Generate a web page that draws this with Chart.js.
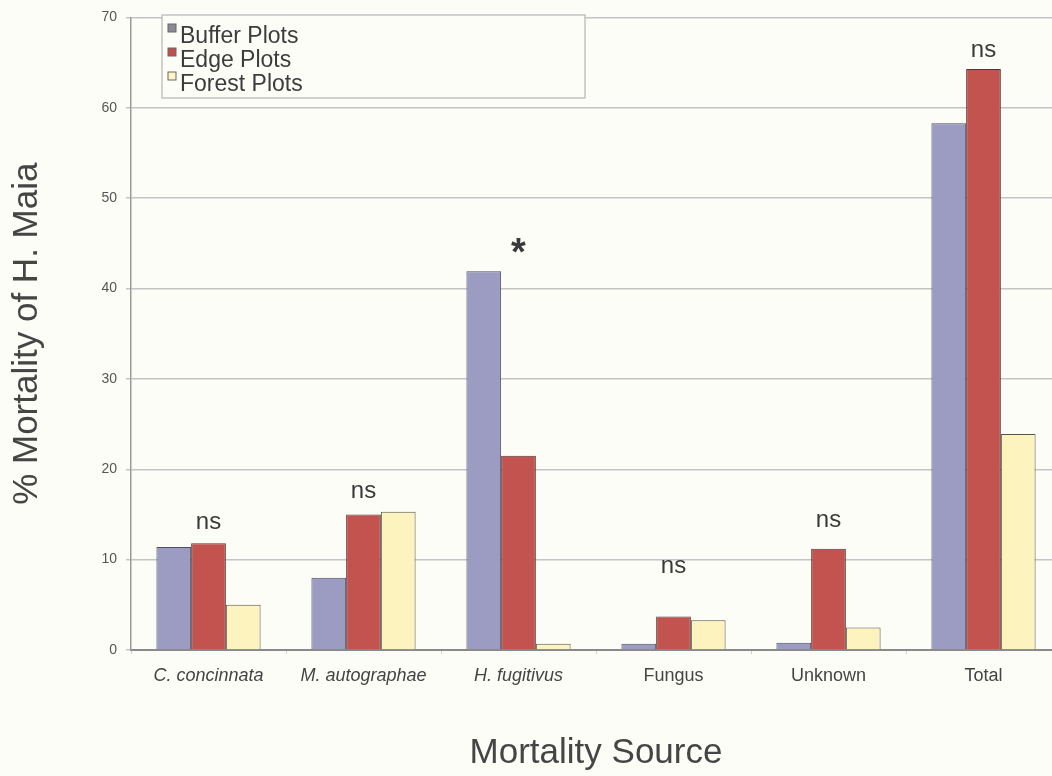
<!DOCTYPE html>
<html>
<head>
<meta charset="utf-8">
<script src="https://cdn.jsdelivr.net/npm/chart.js@4/dist/chart.umd.min.js"></script>
<style>
  html, body { margin: 0; padding: 0; background: #fdfdf8; overflow: hidden; }
  canvas { display: block; }
</style>
</head>
<body>
<canvas id="mortalityChart" width="1061" height="776"></canvas>
<script>
// categories and series
const categories = ['C. concinnata', 'M. autographae', 'H. fugitivus', 'Fungus', 'Unknown', 'Total'];
const bufferPlots = [11.4, 8.0, 41.9, 0.7, 0.8, 58.3];
const edgePlots = [11.8, 15.0, 21.5, 3.7, 11.2, 64.3];
const forestPlots = [5.0, 15.3, 0.7, 3.3, 2.5, 23.9];

// significance marks and the level (in % units) where their baseline sits
const sigMarks = ['ns', 'ns', '*', 'ns', 'ns', 'ns'];
const sigLevels = [13.4, 16.8, 42.6, 8.5, 13.6, 65.6];

const yTicks = [0, 10, 20, 30, 40, 50, 60, 70];

// species names are set in italics
const italicCategories = ['C. concinnata', 'M. autographae', 'H. fugitivus'];

const FONT = "'Liberation Sans', Arial, sans-serif";

// Draws the ns / * marks above each group
const sigPlugin = {
    id: 'sigMarks',
    afterDatasetsDraw(chart) {
        const ctx = chart.ctx;
        const x = chart.scales.x;
        const y = chart.scales.y;
        ctx.save();
        ctx.fillStyle = '#3a3a3a';
        ctx.textAlign = 'center';
        ctx.textBaseline = 'alphabetic';
        sigMarks.forEach((mark, i) => {
            ctx.font = mark === '*' ? 'bold 38px ' + FONT : '24px ' + FONT;
            ctx.fillText(mark, x.getPixelForValue(i), y.getPixelForValue(sigLevels[i]));
        });
        ctx.restore();
    }
};

// Legend box sitting inside the plot, top left
const legendBoxPlugin = {
    id: 'legendBox',
    afterDraw(chart) {
        const ctx = chart.ctx;
        const left = 162, top = 15, width = 423, height = 83;
        ctx.save();
        ctx.fillStyle = '#fdfdf8';
        ctx.fillRect(left, top, width, height);
        ctx.strokeStyle = '#b5b5b5';
        ctx.lineWidth = 1.2;
        ctx.strokeRect(left, top, width, height);

        const markerColors = ['#8a8a96', '#c0504c', '#fdf6c4'];
        ctx.font = '23px ' + FONT;
        ctx.textAlign = 'left';
        ctx.textBaseline = 'alphabetic';
        chart.data.datasets.forEach((ds, i) => {
            const base = 43 + i * 24;
            ctx.fillStyle = markerColors[i];
            ctx.fillRect(168, base - 19, 8, 8);
            ctx.strokeStyle = '#666';
            ctx.lineWidth = 1;
            ctx.strokeRect(168, base - 19, 8, 8);
            ctx.fillStyle = '#3c3c3c';
            ctx.fillText(ds.label, 180, base);
        });
        ctx.restore();
    }
};

const ctx = document.getElementById('mortalityChart').getContext('2d');

new Chart(ctx, {
    type: 'bar',
    data: {
        labels: categories,
        datasets: [
            {
                label: 'Buffer Plots',
                data: bufferPlots,
                backgroundColor: '#9c9bc1',
                borderColor: '#4e4e62',
                borderWidth: 1
            },
            {
                label: 'Edge Plots',
                data: edgePlots,
                backgroundColor: '#c2534f',
                borderColor: '#553535',
                borderWidth: 1
            },
            {
                label: 'Forest Plots',
                data: forestPlots,
                backgroundColor: '#fdf3bf',
                borderColor: '#55554a',
                borderWidth: 1
            }
        ]
    },
    options: {
        responsive: false,
        animation: false,
        layout: { padding: { top: 13, right: 0, bottom: 0, left: 0 } },
        datasets: {
            bar: { categoryPercentage: 0.672, barPercentage: 1.0 }
        },
        plugins: {
            legend: { display: false },
            tooltip: { enabled: false }
        },
        scales: {
            x: {
                afterFit: (scale) => { scale.height = 126; },
                grid: {
                    display: true,
                    drawOnChartArea: false,
                    tickLength: 4,
                    color: '#cfcfcf'
                },
                border: { color: '#8a8a8a', width: 2 },
                ticks: {
                    color: '#444',
                    padding: 11,
                    maxRotation: 0,
                    font: (c) => ({
                        family: FONT,
                        size: 18,
                        style: italicCategories.includes(categories[c.index]) ? 'italic' : 'normal'
                    })
                },
                title: {
                    display: true,
                    text: 'Mortality Source',
                    color: '#454545',
                    font: { family: FONT, size: 35 },
                    padding: { top: 0, bottom: 2 }
                }
            },
            y: {
                min: 0,
                max: 70,
                afterFit: (scale) => { scale.width = 131; },
                afterBuildTicks: (scale) => {
                    scale.ticks = yTicks.map(v => ({ value: v }));
                },
                grid: {
                    color: '#c4c4c4',
                    lineWidth: 1.5,
                    tickLength: 5
                },
                border: { color: '#9a9a9a', width: 1.5 },
                ticks: {
                    color: '#555',
                    padding: 9,
                    font: { family: FONT, size: 14 }
                },
                title: {
                    display: true,
                    text: '% Mortality of H. Maia',
                    color: '#454545',
                    font: { family: FONT, size: 35 },
                    padding: { top: 6, bottom: 0 }
                }
            }
        }
    },
    plugins: [sigPlugin, legendBoxPlugin]
});
</script>
</body>
</html>
